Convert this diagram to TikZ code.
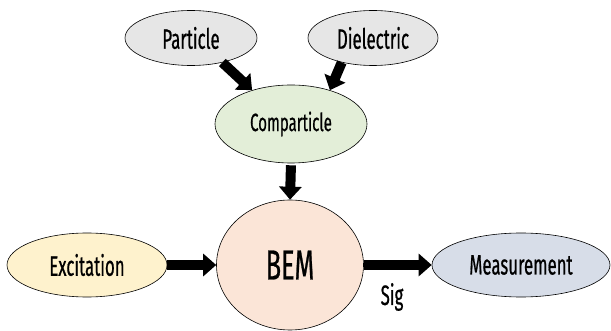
\documentclass[tikz,border=0pt]{standalone}
\usepackage{fontspec}
\setmainfont{Fira Sans}[FakeStretch=0.6, FakeBold=0.6]
\usetikzlibrary{shapes.geometric,arrows.meta}
\definecolor{greyfill}{HTML}{E6E6E6}
\definecolor{greenfill}{HTML}{E3EED8}
\definecolor{peachfill}{HTML}{FBE5D7}
\definecolor{yellowfill}{HTML}{FEF2CD}
\definecolor{bluefill}{HTML}{D7DDE8}
\tikzset{
  blob/.style={ellipse, draw=black, line width=0.6pt, inner sep=0pt, font=\fontsize{28}{32}\selectfont},
  bigarrow/.style={line width=10pt, -{Triangle[width=22pt,length=13pt]}},
}
\begin{document}
\begin{tikzpicture}[x=1pt,y=-1pt]
  \useasboundingbox (0,0) rectangle (611,331);
  % model inputs
  \node[blob, fill=greyfill, minimum width=132pt, minimum height=55pt] (part) at (191,38) {Particle};
  \node[blob, fill=greyfill, minimum width=130pt, minimum height=55pt] (diel) at (373,38) {Dielectric};
  \node[blob, fill=greenfill, minimum width=152pt, minimum height=78pt, font=\fontsize{25}{28}\selectfont] (comp) at (291,124) {Comparticle};
  % solver and its surroundings
  \node[blob, fill=peachfill, minimum width=147pt, minimum height=130pt, font=\fontsize{42}{46}\selectfont] (bem) at (290,265) {BEM};
  \node[blob, fill=yellowfill, minimum width=160pt, minimum height=64pt] (exc) at (87,265) {Excitation};
  \node[blob, fill=bluefill, minimum width=178pt, minimum height=64pt] (meas) at (521,265) {Measurement};
  % connectors
  \draw[bigarrow] (part.-38) -- (comp.139);
  \draw[bigarrow] (diel.218) -- (comp.41);
  \draw[bigarrow, shorten <=2pt] (comp.south) -- (bem.north);
  \draw[bigarrow] (exc.east) -- (bem.west);
  \draw[bigarrow] (bem.east) -- (meas.west);
  \node[font=\fontsize{28}{32}\selectfont] (sig) at (392,297) {Sig};
\end{tikzpicture}
\end{document}
